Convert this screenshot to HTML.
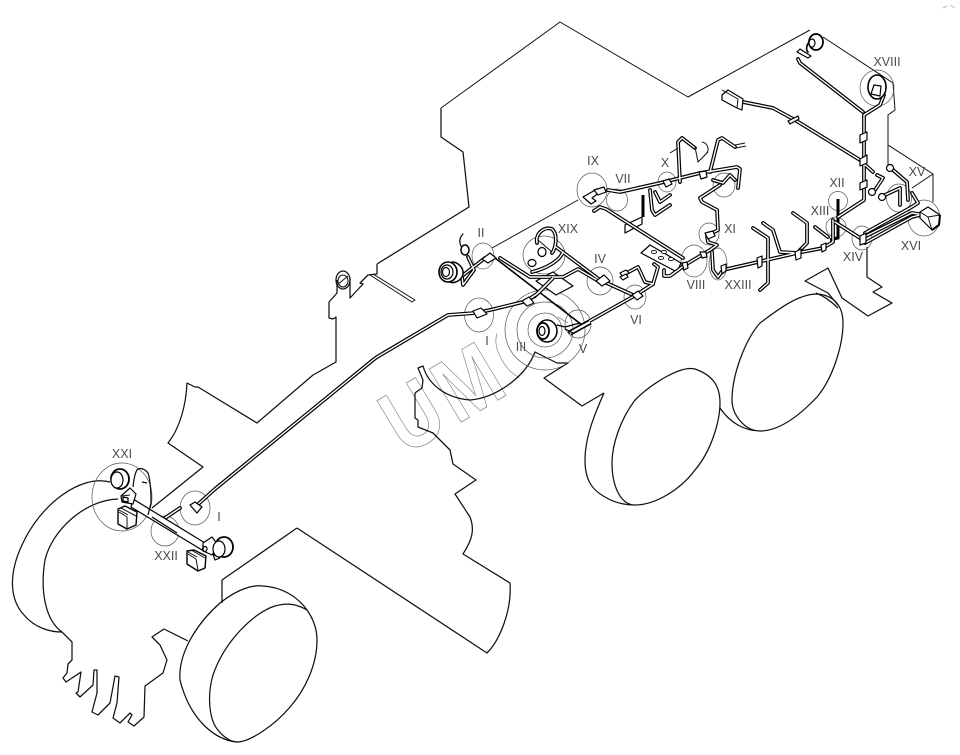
<!DOCTYPE html>
<html><head><meta charset="utf-8"><style>
html,body{margin:0;padding:0;background:#fff}
svg{display:block}
.o{fill:none;stroke:#111;stroke-width:1.25;stroke-linejoin:round}
.t{fill:none;stroke:#111;stroke-width:1;stroke-linejoin:round}
.h{fill:none;stroke:#000;stroke-width:1.6;stroke-linejoin:round;stroke-linecap:round}
.c{fill:none;stroke:#555;stroke-width:.7}
.b{fill:#fff;stroke:#000;stroke-width:1.2;stroke-linejoin:round}
text{font-family:"Liberation Sans",sans-serif;font-size:12.5px;fill:#4a4a4a;text-anchor:middle;font-weight:normal}
</style></head><body>
<svg width="960" height="755" viewBox="0 0 960 755" xmlns="http://www.w3.org/2000/svg">
<defs>
<clipPath id="wm"><polygon points="340,300 480,300 527,392 400,490 340,490"/></clipPath>
<g id="tb" fill="none" stroke-linejoin="round" stroke-linecap="round">
<path d="M195,507L215,489L373,360L377,357L448,315L475,313L490,310L523,302L535,296"/>
<path d="M594,211L600,207L606,209L683,258"/>
<path d="M570,332L636,295L653,284L658,267L654,264"/>
<path d="M556,247L600,280L633,295"/>
<path d="M500,258L530,277L563,277L578,269L600,282"/>
<path d="M608,190L620,192L660,183L700,173L737,167L740,169L738,188"/>
<path d="M680,182L678,142L682,138L695,148"/>
<path d="M710,172L718,140L722,138L735,147"/>
<path d="M720,185L700,198L702,202L717,210L718,230L707,236L708,242L717,245L710,250L685,265L670,276L664,276L664,270"/>
<path d="M713,180L723,183L730,175L735,180"/>
<path d="M623,275L638,267L645,282L653,284"/>
<path d="M650,190L652,210L655,215L670,205"/>
<path d="M655,192L660,202L670,195"/>
<path d="M712,252L713,270L718,277L723,270L758,262L797,253L823,248L833,242L833,220"/>
<path d="M753,228L768,238L768,283L760,290"/>
<path d="M763,223L773,230L780,252L797,253"/>
<path d="M793,213L807,223L807,243L800,250"/>
<path d="M815,227L828,237"/>
<path d="M835,222L860,238"/>
<path d="M862,238L912,213L925,215"/>
<path d="M865,233L910,208L918,203L912,193"/>
<path d="M865,243L912,217L920,215"/>
<path d="M838,217L864,200L864,115L880,105L884,95"/>
<path d="M863,112L800,63L798,59"/>
<path d="M743,102L773,108L795,120L860,160L873,172"/>
<path d="M890,168L893,170L907,182L908,200"/>
<path d="M882,197L885,195L900,188L900,205"/>
<path d="M877,175L883,178L875,190L872,192"/>
<path d="M180,508L165,518"/>
<path d="M468,257L474,270L463,285L462,276L485,258"/>
<path d="M537,243C535,233 545,226 552,229C558,234 556,248 552,253"/>
<path d="M563,252C560,260 548,268 532,272"/>
</g>
</defs>

<!-- watermark -->
<g clip-path="url(#wm)"><text transform="translate(405,456) rotate(-31) scale(.83,1)" x="0" y="0" style="font-size:90px;font-weight:bold;fill:none;stroke:#8a8a8a;stroke-width:.8;text-anchor:start;letter-spacing:8px">UMC</text></g>
<path d="M553,303L562,308M558,317L568,323" stroke="#8a8a8a" stroke-width=".8" fill="none"/>

<!-- body -->
<path class="o" d="M441,108L441,137L463,152L469,207L377,264"/>
<path class="t" d="M441,108L560,22L688,97L810,30"/>
<path class="t" d="M823,37L893,83L895,110L888,115L888,167M888,145L933,174L933,202M912,188L933,174"/>
<path class="o" d="M867,247L867,277L882,287L873,292L892,303L868,316L842,298L828,268L805,281L828,293L838,305"/>
<path class="o" d="M377,264L377,274L368,275L360,283L363,284L350,298L350,278"/>
<path class="o" d="M337,280L337,293L329,302L329,318L333,319L336,317L336,362L313,375L257,423L198,387L195,387L187,383C186,405 180,428 168,443L203,467L152,508"/>
<path class="t" d="M373,274L415,300L412,302L370,275"/>
<ellipse class="o" cx="343" cy="280" rx="7" ry="9"/><ellipse class="t" cx="343" cy="281" rx="5" ry="6"/><path class="t" d="M337,285L348,276"/>

<!-- middle body -->
<path class="o" d="M297,528L487,653C500,640 512,610 510,583L463,554C472,540 475,530 470,517L455,494L476,480L453,464L450,450L433,433L418,427L418,420L415,418L415,393L422,388L423,380L418,368L423,366C428,384 445,398 470,400C495,398 525,378 535,352L557,363L568,363L544,378L582,406L604,393"/>
<path class="o" d="M297,528L222,580L222,603"/>
<!-- front left fender -->
<path class="o" d="M110,482C80,474 40,505 22,545C8,575 10,600 24,615C35,628 50,632 62,632C45,620 40,590 45,560C52,530 85,500 118,499"/>
<path class="o" d="M62,632L72,642L72,660L68,664L67,673L63,678L66,682L81,672L78,692L76,693L80,697L93,685L94,670L97,670L97,693L92,712L98,715L110,703L115,676L119,677L117,703L113,718L120,723L130,713L132,715L128,722L134,726L144,717L145,686L163,673L167,660L160,645L152,637L164,629L188,641"/>
<!-- front wheel -->
<path class="o" d="M237,742C215,740 190,720 180,680C178,655 195,625 220,603C240,587 255,585 263,586C282,587 298,597 307,610C314,620 317,630 317,640C317,665 305,690 290,707C275,725 250,742 237,742Z"/>
<path class="o" d="M307,610C295,603 285,603 275,606C255,612 225,640 213,675C207,695 209,720 218,730C224,738 232,742 237,742"/>
<!-- rear wheels -->
<path class="o" d="M604,393C592,420 585,440 585,460C585,480 592,490 605,497C615,503 625,505 635,505C655,505 680,490 695,470C712,450 720,420 720,403C720,385 712,375 695,369C680,365 650,385 635,400C620,420 612,445 612,463C612,485 620,505 635,505"/>
<path class="o" d="M720,408C730,423 745,431 760,431C780,431 800,415 817,397C833,378 843,345 843,323C843,305 833,295 817,294C797,294 775,312 760,323C745,340 732,375 732,400C732,415 745,431 760,431"/>
<path class="o" d="M816,293C826,297 833,303 838,308"/>

<!-- circles -->
<g class="c">
<ellipse cx="479" cy="315" rx="14.5" ry="17"/>
<ellipse cx="483" cy="256" rx="11" ry="13"/>
<circle cx="545" cy="330" r="17"/><circle cx="545" cy="330" r="28"/><circle cx="545" cy="330" r="40"/>
<ellipse cx="578" cy="324" rx="13" ry="14"/>
<ellipse cx="635" cy="297" rx="11" ry="12"/>
<ellipse cx="600" cy="281" rx="13" ry="14"/>
<ellipse cx="544" cy="255" rx="21" ry="19"/>
<ellipse cx="592" cy="190" rx="15" ry="17"/>
<ellipse cx="617" cy="200" rx="10.5" ry="11"/>
<ellipse cx="667" cy="182" rx="9" ry="10"/>
<ellipse cx="724" cy="185" rx="11" ry="12"/>
<ellipse cx="709" cy="234" rx="10" ry="11"/>
<ellipse cx="694" cy="261" rx="13" ry="16"/>
<ellipse cx="718" cy="264" rx="9" ry="16"/>
<ellipse cx="877" cy="88" rx="17" ry="18"/>
<circle cx="838" cy="201" r="9.5"/>
<circle cx="836" cy="227" r="10"/>
<ellipse cx="862" cy="238" rx="10" ry="12"/>
<ellipse cx="899" cy="198" rx="12.5" ry="14"/>
<ellipse cx="924" cy="218" rx="16" ry="18"/>
<ellipse cx="122" cy="497" rx="30" ry="34"/>
<ellipse cx="195" cy="508" rx="15" ry="17"/>
<ellipse cx="165" cy="531" rx="14" ry="15"/>
</g>

<!-- single wires -->
<path class="h" d="M495,258L582,325"/>
<path class="t" d="M578,200L492,248"/>
<path d="M830,240L838,238L838,199" fill="none" stroke="#000" stroke-width="3"/>
<path d="M643,195L643,217" fill="none" stroke="#000" stroke-width="3"/>

<!-- plates -->
<polygon class="b" points="536,281 553,272 573,286 556,295"/>
<polygon class="b" points="641,253 650,245 681,263 677,272"/>
<g fill="#fff" stroke="#000" stroke-width=".9"><ellipse cx="654" cy="252" rx="2.5" ry="1.6"/><ellipse cx="664" cy="252" rx="2.5" ry="1.6"/><ellipse cx="661" cy="258" rx="2.5" ry="1.6"/><ellipse cx="671" cy="259" rx="2.5" ry="1.6"/></g>
<polygon class="b" points="625,225 625,233 642,224 642,217"/>

<!-- tubes -->
<use href="#tb" stroke="#000" stroke-width="3.8"/>
<use href="#tb" stroke="#fff" stroke-width="1.4"/>
<path d="M523,303L537,294L553,278" fill="none" stroke="#000" stroke-width="4"/><path d="M523,303L537,294L553,278" fill="none" stroke="#fff" stroke-width="1.6"/>
<path d="M570,333L590,322" fill="none" stroke="#000" stroke-width="5.5"/><path d="M570,333L590,322" fill="none" stroke="#fff" stroke-width="2.4"/>
<path class="h" d="M557,325L565,327L580,323M565,329L573,333" style="stroke-width:1.2"/>

<!-- connectors -->
<g class="b">
<polygon points="473,311 481,308 487,314 477,318"/>
<polygon points="522,301 529,297 534,303 527,306"/>
<polygon points="482,259 490,253 496,258 488,263"/>
<polygon points="596,281 604,275 610,281 602,286"/>
<polygon points="632,295 638,291 643,296 637,300"/>
<polygon points="583,197 597,189 600,192 592,198 596,201 591,204"/>
<polygon points="594,190 604,187 606,192 598,195"/>
<polygon points="663,181 669,179 672,184 666,187"/>
<polygon points="699,172 706,171 707,177 701,179"/>
<polygon points="705,233 713,231 715,236 708,239"/>
<polygon points="700,252 706,252 707,257 702,258"/>
<polygon points="682,263 687,262 688,268 684,270"/>
<polygon points="721,266 726,264 726,271 722,274"/>
<polygon points="757,258 762,256 762,266 758,268"/>
<polygon points="795,252 801,249 801,258 796,260"/>
<polygon points="821,245 826,243 826,250 822,252"/>
<polygon points="860,236 866,233 866,243 860,245"/>
<polygon points="860,135 867,132 867,140 860,143"/>
<polygon points="860,159 867,155 867,163 860,166"/>
<polygon points="860,183 867,180 867,187 860,190"/>
<polygon points="788,121 798,116 799,119 790,124"/>
<polygon points="620,273 626,270 629,273 623,277"/>
<polygon points="620,277 626,274 628,277 623,280"/>
<polygon points="722,95 728,90 743,99 742,110 737,108 722,100"/>
<polygon points="920,212 928,207 940,215 939,225 932,230 920,218"/>
<polygon points="797,52 800,49 811,56 808,58"/>
<polygon points="190,505 195,502 202,507 197,513"/>
</g>
<path class="t" d="M737,108L738,99L722,90M928,217L932,230M940,215L928,217L920,212"/>
<path d="M940,215L939,225L932,230" fill="none" stroke="#000" stroke-width="2"/>

<!-- II lamp -->
<g>
<path class="b" d="M452,262C458,262 464,268 463,274C462,280 455,284 450,282Z" style="stroke-width:1.5"/>
<ellipse class="b" cx="448" cy="272" rx="9" ry="10" style="stroke-width:1.6"/>
<ellipse class="b" cx="447" cy="272" rx="6" ry="7"/>
<ellipse class="b" cx="446" cy="272" rx="3.5" ry="4.5"/>
<path class="h" d="M467,252C460,248 457,240 463,234" style="stroke-width:1.2"/>
<ellipse class="b" cx="465" cy="250" rx="4" ry="5" style="stroke-width:1.5"/>
</g>
<!-- III lamp -->
<g>
<ellipse class="b" cx="547" cy="331" rx="10" ry="11" style="stroke-width:1.5"/>
<ellipse class="b" cx="543" cy="331" rx="6" ry="8" style="stroke-width:1.8"/>
<ellipse class="b" cx="542" cy="331" rx="3" ry="4.5" style="stroke-width:1.2"/>
</g>
<!-- XIX -->
<ellipse class="b" cx="542" cy="252" rx="4" ry="4.5"/>
<ellipse class="b" cx="532" cy="263" rx="4" ry="3.5"/>
<path class="t" d="M538,240L552,252"/>
<!-- X lamp -->
<path class="t" d="M695,147L698,162L708,152M702,142C708,143 710,150 706,154"/>
<path class="t" d="M670,153L678,148M735,145L745,143M736,148L746,146"/>
<!-- XVIII lamps -->
<ellipse class="b" cx="877" cy="87" rx="9" ry="12" style="stroke-width:1.6"/>
<path class="b" d="M871,94L874,85L881,86L880,96Z"/>
<ellipse class="b" cx="816" cy="42" rx="7" ry="8" style="stroke-width:1.8"/>
<ellipse class="b" cx="812" cy="43" rx="3" ry="4"/>
<path class="h" d="M809,42C806,46 806,50 808,52"/>

<!-- XV hooks -->
<circle class="b" cx="890" cy="168" r="3.5"/>
<circle class="b" cx="872" cy="192" r="3.5"/>
<circle class="b" cx="882" cy="197" r="3.5"/>

<!-- front axle -->
<polygon class="b" points="133,499 205,543 202,550 131,507"/>
<line x1="152" y1="517" x2="177" y2="533" stroke="#000" stroke-width="1.3"/>
<!-- wire loop -->
<path class="o" d="M133,487C134,478 135,473 137,470C140,467 145,469 148,473C151,482 151,495 151,503L148,515M142,482L147,483"/>
<!-- XXI -->
<ellipse class="b" cx="120" cy="479" rx="9" ry="10" style="stroke-width:1.8"/>
<ellipse class="b" cx="117" cy="480" rx="6" ry="8"/>
<polygon class="b" points="121,496 130,488 136,494 133,504 122,502"/>
<polygon class="b" points="123,497 128,498 128,502 123,501"/>
<path class="t" d="M130,495L122,496"/>
<polygon class="b" points="118,509 125,506 137,512 136,525 127,529 118,524" style="stroke-width:1.4"/>
<path class="t" d="M119,512L127,517L127,528M119,510L128,515M121,508L136,516"/>
<!-- right end -->
<polygon class="b" points="203,543 212,537 218,545 212,555 203,551"/>
<ellipse class="b" cx="205" cy="549" rx="2" ry="2.5"/>
<path class="b" d="M213,554L220,558L215,560Z"/>
<ellipse class="b" cx="224" cy="547" rx="9" ry="10" style="stroke-width:1.8"/>
<ellipse class="b" cx="219" cy="549" rx="6" ry="8"/>
<polygon class="b" points="187,551 194,550 206,556 205,568 198,571 187,564" style="stroke-width:1.4"/>
<path class="t" d="M188,554L196,559L198,570M188,552L197,557M191,550L205,558"/>

<!-- labels -->
<text x="593" y="165">IX</text>
<text x="623" y="183">VII</text>
<text x="665" y="167">X</text>
<text x="730" y="233">XI</text>
<text x="481" y="237">II</text>
<text x="568" y="233">XIX</text>
<text x="600" y="263">IV</text>
<text x="636" y="324">VI</text>
<text x="696" y="289">VIII</text>
<text x="738" y="289">XXIII</text>
<text x="853" y="261">XIV</text>
<text x="820" y="215">XIII</text>
<text x="837" y="187">XII</text>
<text x="917" y="176">XV</text>
<text x="911" y="250">XVI</text>
<text x="887" y="66">XVIII</text>
<text x="521" y="351">III</text>
<text x="583" y="353">V</text>
<text x="487" y="345">I</text>
<text x="122" y="458">XXI</text>
<text x="219" y="521">I</text>
<text x="166" y="560">XXII</text>

<path d="M943,8L947,6M950,5L955,8" stroke="#bbb" stroke-width="1" fill="none"/>
</svg>
</body></html>
